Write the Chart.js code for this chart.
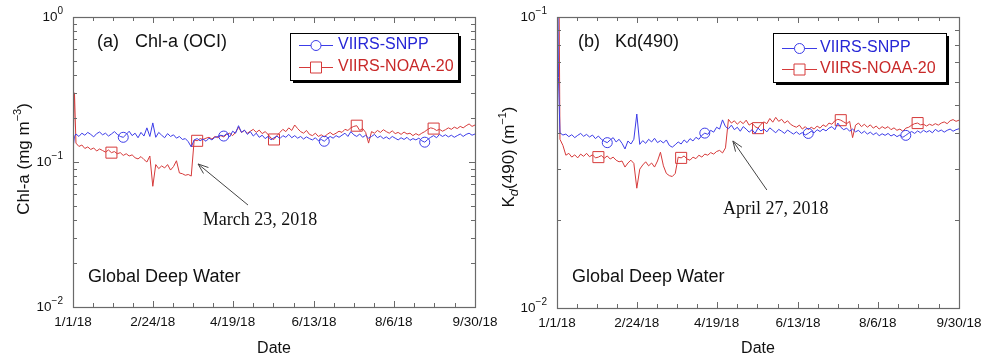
<!DOCTYPE html>
<html>
<head>
<meta charset="utf-8">
<script src="https://cdn.jsdelivr.net/npm/chart.js@4.4.1/dist/chart.umd.min.js"></script>
<style>
    html, body { margin: 0; padding: 0; background: #fff; }
    #wrap { position: relative; width: 985px; height: 358px; overflow: hidden; }
    canvas { position: absolute; top: 0; }
    #chlChart { left: 0; }
    #kdChart { left: 493px; }
</style>
</head>
<body>
<div id="wrap">
    <canvas id="chlChart" width="505" height="358"></canvas>
    <canvas id="kdChart" width="492" height="358"></canvas>
</div>
<script>
// ------------------ DONNÉES ------------------
const days = [0,1,2,4,6,8,10,12,14,16,18,20,22,24,26,28,30,32,34,36,38,40,42,44,46,48,50,52,54,56,58,60,
    62,64,66,68,70,72,74,76,78,80,82,84,86,88,90,92,94,96,98,100,102,104,106,108,110,112,114,116,118,120,
    122,124,126,128,130,132,134,136,138,140,142,144,146,148,150,152,154,156,158,160,162,164,166,168,170,
    172,174,176,178,180,182,184,186,188,190,192,194,196,198,200,202,204,206,208,210,212,214,216,218,220,
    222,224,226,228,230,232,234,236,238,240,242,244,246,248,250,252,254,256,258,260,262,264,266,268,270,272];

const dateTickDays = [0, 54, 108, 163, 217, 272];
const dateTickLabels = ['1/1/18', '2/24/18', '4/19/18', '6/13/18', '8/6/18', '9/30/18'];
const seriesNames = ['VIIRS-SNPP', 'VIIRS-NOAA-20'];

// Chl-a (mg m-3)
const chlSnpp = [0.125, 0.150,
    0.156, 0.150, 0.158, 0.153, 0.160,  0.155, 0.149, 0.157, 0.161, 0.154,
    0.158, 0.151, 0.156, 0.162, 0.155,  0.150, 0.148, 0.155, 0.163, 0.152,
    0.158, 0.147, 0.160, 0.151, 0.172,  0.150, 0.186, 0.148, 0.160, 0.153,
    0.147, 0.157, 0.150, 0.154, 0.146,  0.150, 0.143, 0.145, 0.138, 0.127,
    0.142, 0.145, 0.140, 0.144, 0.139,  0.146, 0.142, 0.148, 0.150, 0.153,
    0.151, 0.157, 0.149, 0.163, 0.158,  0.178, 0.160, 0.166, 0.155, 0.162,
    0.151, 0.158, 0.148, 0.153, 0.145,  0.150, 0.142, 0.147, 0.151, 0.145,
    0.152, 0.148, 0.155, 0.147, 0.152,  0.146, 0.150, 0.144, 0.149, 0.145,
    0.142, 0.147, 0.140, 0.143, 0.139,  0.145, 0.150, 0.146, 0.152, 0.148,
    0.153, 0.158, 0.150, 0.162, 0.154,  0.150, 0.156, 0.148, 0.153, 0.146,
    0.150, 0.155, 0.147, 0.151, 0.145,  0.149, 0.144, 0.150, 0.146, 0.142,
    0.147, 0.143, 0.148, 0.141, 0.145,  0.142, 0.146, 0.140, 0.137, 0.143,
    0.148, 0.152, 0.147, 0.155, 0.150,  0.154, 0.149, 0.153, 0.148, 0.152,
    0.156, 0.150, 0.155, 0.158, 0.153,  0.156];
const chlNoaa20 = [0.125, 0.300,
    0.135, 0.128, 0.131, 0.124, 0.127,  0.122, 0.125, 0.119, 0.123, 0.120,
    0.117, 0.121, 0.116, 0.118, 0.114,  0.116, 0.111, 0.114, 0.110, 0.112,
    0.107, 0.105, 0.109, 0.104, 0.100,  0.110, 0.068, 0.096, 0.090, 0.094,
    0.091, 0.096, 0.088, 0.093, 0.102,  0.084, 0.083, 0.081, 0.082, 0.080,
    0.142, 0.140, 0.145, 0.143, 0.146,  0.148, 0.144, 0.150, 0.147, 0.152,
    0.149, 0.155, 0.158, 0.152, 0.160,  0.174, 0.160, 0.165, 0.158, 0.163,
    0.168, 0.160, 0.166, 0.157, 0.162,  0.155, 0.146, 0.143, 0.152, 0.160,
    0.168, 0.162, 0.172, 0.165, 0.180,  0.170, 0.162, 0.158, 0.165, 0.155,
    0.152, 0.158, 0.150, 0.154, 0.149,  0.155, 0.160, 0.154, 0.158, 0.163,
    0.160, 0.168, 0.165, 0.172, 0.176,  0.178, 0.165, 0.170, 0.160, 0.135,
    0.162, 0.158, 0.165, 0.160, 0.167,  0.162, 0.158, 0.164, 0.157, 0.160,
    0.155, 0.161, 0.156, 0.158, 0.152,  0.157, 0.153, 0.158, 0.162, 0.168,
    0.172, 0.170, 0.165, 0.168, 0.163,  0.167, 0.172, 0.168, 0.174, 0.170,
    0.176, 0.172, 0.178, 0.183, 0.176,  0.180];

// Kd(490) (m-1)
const kdSnpp = [0.300, 0.062,
    0.0400, 0.0393, 0.0396, 0.0388, 0.0394,  0.0385, 0.0392, 0.0398, 0.0389, 0.0395,
    0.0387, 0.0393, 0.0382, 0.0390, 0.0380,  0.0374, 0.0370, 0.0378, 0.0385, 0.0372,
    0.0380, 0.0368, 0.0352, 0.0375, 0.0366,  0.0380, 0.0464, 0.0365, 0.0376, 0.0368,
    0.0380, 0.0372, 0.0383, 0.0370, 0.0376,  0.0369, 0.0378, 0.0362, 0.0357, 0.0364,
    0.0372, 0.0366, 0.0378, 0.0370, 0.0382,  0.0375, 0.0386, 0.0380, 0.0392, 0.0399,
    0.0395, 0.0408, 0.0402, 0.0418, 0.0412,  0.0443, 0.0420, 0.0413, 0.0425, 0.0410,
    0.0418, 0.0405, 0.0420, 0.0412, 0.0402,  0.0410, 0.0398, 0.0415, 0.0406, 0.0412,
    0.0403, 0.0416, 0.0408, 0.0400, 0.0411,  0.0405, 0.0398, 0.0409, 0.0402, 0.0396,
    0.0403, 0.0395, 0.0401, 0.0393, 0.0398,  0.0405, 0.0400, 0.0410, 0.0404, 0.0412,
    0.0406, 0.0415, 0.0420, 0.0410, 0.0432,  0.0418, 0.0410, 0.0415, 0.0405, 0.0412,
    0.0403, 0.0408, 0.0398, 0.0405, 0.0396,  0.0402, 0.0394, 0.0400, 0.0391, 0.0397,
    0.0392, 0.0398, 0.0390, 0.0395, 0.0388,  0.0393, 0.0386, 0.0392, 0.0399, 0.0404,
    0.0398, 0.0406, 0.0400, 0.0408, 0.0402,  0.0407, 0.0400, 0.0411, 0.0404, 0.0409,
    0.0402, 0.0408, 0.0412, 0.0405, 0.0410,  0.0413];
const kdNoaa20 = [0.250, 0.250,
    0.0380, 0.0362, 0.0335, 0.0340, 0.0330,  0.0336, 0.0328, 0.0338, 0.0332, 0.0340,
    0.0331, 0.0336, 0.0328, 0.0330, 0.0334,  0.0327, 0.0333, 0.0325, 0.0330, 0.0322,
    0.0318, 0.0320, 0.0305, 0.0315, 0.0322,  0.0314, 0.0258, 0.0300, 0.0310, 0.0318,
    0.0308, 0.0315, 0.0305, 0.0320, 0.0343,  0.0308, 0.0290, 0.0285, 0.0283, 0.0290,
    0.0330, 0.0328, 0.0333, 0.0325, 0.0322,  0.0330, 0.0326, 0.0335, 0.0330, 0.0338,
    0.0335, 0.0342, 0.0338, 0.0345, 0.0348,  0.0341, 0.0355, 0.0445, 0.0432, 0.0440,
    0.0428, 0.0438, 0.0430, 0.0442, 0.0425,  0.0432, 0.0420, 0.0415, 0.0428, 0.0436,
    0.0430, 0.0448, 0.0435, 0.0452, 0.0438,  0.0445, 0.0432, 0.0440, 0.0428, 0.0422,
    0.0418, 0.0425, 0.0412, 0.0420, 0.0410,  0.0418, 0.0412, 0.0422, 0.0415, 0.0426,
    0.0420, 0.0432, 0.0428, 0.0440, 0.0445,  0.0442, 0.0436, 0.0430, 0.0438, 0.0385,
    0.0425, 0.0432, 0.0420, 0.0428, 0.0418,  0.0426, 0.0415, 0.0422, 0.0412, 0.0420,
    0.0414, 0.0420, 0.0410, 0.0416, 0.0408,  0.0412, 0.0405, 0.0415, 0.0418, 0.0425,
    0.0430, 0.0432, 0.0426, 0.0428, 0.0422,  0.0428, 0.0424, 0.0430, 0.0425, 0.0432,
    0.0436, 0.0430, 0.0440, 0.0444, 0.0438,  0.0442];

// Jours où un symbole est posé sur la courbe
const chlSnppMarkers = [34, 102, 170, 238];
const chlNoaa20Markers = [26, 84, 136, 192, 244];
const kdSnppMarkers = [34, 100, 170, 236];
const kdNoaa20Markers = [28, 84, 136, 192, 244];

// ------------------ STYLES ------------------
const BLUE = '#3c3ce8';
const RED = '#d63a3a';
const BLUE_TXT = '#2626d6';
const RED_TXT = '#c82828';
const INK = '#111';
const FRAME = '#6a6a6a';
const SANS = "'Liberation Sans', Arial, Helvetica, sans-serif";
const SERIF = "'Liberation Serif', 'Times New Roman', serif";

function fontOf(pc) {
    return `${pc.italic ? 'italic ' : ''}${pc.size}px ${pc.family || SANS}`;
}

// Texte composé (exposants / indices), éventuellement tourné
function drawRich(ctx, pieces, cx, cy, angle) {
    ctx.save();
    ctx.translate(cx, cy);
    ctx.rotate(angle);
    let total = 0;
    pieces.forEach(pc => {
        ctx.font = fontOf(pc);
        pc.w = ctx.measureText(pc.t).width;
        total += pc.w;
    });
    let xx = -total / 2;
    ctx.textAlign = 'left';
    ctx.textBaseline = 'middle';
    ctx.fillStyle = INK;
    pieces.forEach(pc => {
        ctx.font = fontOf(pc);
        ctx.fillText(pc.t, xx, pc.dy || 0);
        xx += pc.w;
    });
    ctx.restore();
}

function decorPlugin(p) {
    return {
        id: 'decor',
        afterDraw(chart) {
            const { ctx, chartArea: a } = chart;
            const x = chart.scales.x;
            const y = chart.scales.y;
            ctx.save();

            // Cadre
            ctx.strokeStyle = FRAME;
            ctx.lineWidth = 1.2;
            ctx.strokeRect(Math.round(a.left) + 0.5, Math.round(a.top) + 0.5,
                Math.round(a.right - a.left), Math.round(a.bottom - a.top));

            // Graduations internes X (haut et bas)
            ctx.lineWidth = 1;
            ctx.beginPath();
            for (let i = 0; i < dateTickDays.length; i++) {
                const next = dateTickDays[i + 1];
                for (let k = 0; k < 4; k++) {
                    if (next === undefined && k > 0) break;
                    const d = dateTickDays[i] + (next === undefined ? 0 : k * (next - dateTickDays[i]) / 4);
                    const px = Math.round(x.getPixelForValue(d)) + 0.5;
                    const len = k === 0 ? 6 : 4;
                    ctx.moveTo(px, a.bottom); ctx.lineTo(px, a.bottom - len);
                    ctx.moveTo(px, a.top); ctx.lineTo(px, a.top + len);
                }
            }
            // Graduations internes Y (gauche et droite)
            const e0 = Math.round(Math.log10(p.yMin));
            const e1 = Math.round(Math.log10(p.yMax));
            for (let e = e0; e <= e1; e++) {
                for (let m = 1; m <= 9; m++) {
                    if (e === e1 && m > 1) break;
                    const py = Math.round(y.getPixelForValue(m * Math.pow(10, e))) + 0.5;
                    const len = m === 1 ? 6 : 4;
                    ctx.moveTo(a.left, py); ctx.lineTo(a.left + len, py);
                    ctx.moveTo(a.right, py); ctx.lineTo(a.right - len, py);
                }
            }
            ctx.stroke();

            // Étiquettes Y : 10^n
            ctx.fillStyle = INK;
            ctx.textAlign = 'left';
            ctx.textBaseline = 'middle';
            for (let e = e0; e <= e1; e++) {
                const py = y.getPixelForValue(Math.pow(10, e));
                const sup = String(e).replace('-', '\u2212');
                ctx.font = `10px ${SANS}`;
                const supW = ctx.measureText(sup).width;
                ctx.font = `13.5px ${SANS}`;
                const baseW = ctx.measureText('10').width;
                const xr = a.left - 10;
                ctx.fillText('10', xr - supW - baseW, py);
                ctx.font = `10px ${SANS}`;
                ctx.fillText(sup, xr - supW, py - 6);
            }

            // Titre de l'axe Y
            drawRich(ctx, p.yTitle.pieces, p.yTitle.x, p.yTitle.y, -Math.PI / 2);

            // Titre du panneau et région
            ctx.fillStyle = INK;
            ctx.font = `18px ${SANS}`;
            ctx.fillText(p.tag.label, p.tag.x, p.tag.y);
            ctx.fillText(p.tag.name, p.tag.nameX, p.tag.y);
            ctx.fillText('Global Deep Water', p.region.x, p.region.y);

            // Légende avec ombre
            const L = p.legend;
            ctx.fillStyle = '#000';
            ctx.fillRect(L.x + 3, L.y + 3, L.w, L.h);
            ctx.fillStyle = '#fff';
            ctx.fillRect(L.x, L.y, L.w, L.h);
            ctx.strokeStyle = '#000';
            ctx.lineWidth = 1;
            ctx.strokeRect(L.x + 0.5, L.y + 0.5, L.w, L.h);
            const rows = [
                { color: BLUE, txt: BLUE_TXT, style: 'circle' },
                { color: RED, txt: RED_TXT, style: 'rect' }
            ];
            rows.forEach((r, i) => {
                const ry = L.rows[i] + 0.5;
                const mx = (L.lineX[0] + L.lineX[1]) / 2;
                ctx.strokeStyle = r.color;
                ctx.beginPath();
                ctx.moveTo(L.lineX[0], ry); ctx.lineTo(L.lineX[1], ry);
                ctx.stroke();
                ctx.fillStyle = '#fff';
                ctx.beginPath();
                if (r.style === 'circle') {
                    ctx.arc(mx, ry, 5, 0, Math.PI * 2);
                } else {
                    ctx.rect(mx - 5.5, ry - 5.5, 11, 11);
                }
                ctx.fill();
                ctx.stroke();
                ctx.fillStyle = r.txt;
                ctx.font = `16px ${SANS}`;
                ctx.fillText(seriesNames[i], L.textX, L.rows[i]);
            });

            // Annotation et flèche
            const n = p.note;
            const tx = x.getPixelForValue(n.tail[0]), ty = y.getPixelForValue(n.tail[1]);
            const hx = x.getPixelForValue(n.tip[0]), hy = y.getPixelForValue(n.tip[1]);
            ctx.strokeStyle = '#444';
            ctx.lineWidth = 1;
            ctx.beginPath();
            ctx.moveTo(tx, ty); ctx.lineTo(hx, hy);
            const ang = Math.atan2(hy - ty, hx - tx);
            [-1, 1].forEach(s => {
                ctx.moveTo(hx, hy);
                ctx.lineTo(hx - 11 * Math.cos(ang + s * 0.36), hy - 11 * Math.sin(ang + s * 0.36));
            });
            ctx.stroke();
            ctx.fillStyle = INK;
            ctx.font = `18px ${SERIF}`;
            ctx.textAlign = 'center';
            ctx.fillText(n.text, x.getPixelForValue(n.at[0]), y.getPixelForValue(n.at[1]));

            ctx.restore();
        }
    };
}

function makeDataset(label, values, markerDays, color, style, radius) {
    return {
        label: label,
        data: values,
        borderColor: color,
        borderWidth: 1,
        tension: 0,
        pointStyle: style,
        pointRadius: c => markerDays.includes(days[c.dataIndex]) ? radius : 0,
        pointHoverRadius: 0,
        pointBorderColor: color,
        pointBackgroundColor: 'rgba(0,0,0,0)',
        pointBorderWidth: 1
    };
}

function makeChart(canvasId, p) {
    return new Chart(document.getElementById(canvasId), {
        type: 'line',
        data: {
            labels: days,
            datasets: [
                makeDataset(seriesNames[0], p.snpp, p.snppMarkers, BLUE, 'circle', 5),
                makeDataset(seriesNames[1], p.noaa, p.noaaMarkers, RED, 'rect', 7.8)
            ]
        },
        options: {
            responsive: false,
            animation: false,
            events: [],
            layout: { padding: p.padding },
            plugins: {
                legend: { display: false },
                tooltip: { enabled: false }
            },
            scales: {
                x: {
                    type: 'linear',
                    min: 0,
                    max: 272,
                    grid: { display: false, drawTicks: false },
                    border: { display: false },
                    afterBuildTicks: s => { s.ticks = dateTickDays.map(v => ({ value: v })); },
                    afterFit: s => { s.height = p.xAxisHeight; s.paddingLeft = 0; s.paddingRight = 0; },
                    ticks: {
                        autoSkip: false,
                        maxRotation: 0,
                        padding: 7,
                        color: INK,
                        font: { family: SANS, size: 13.5 },
                        callback: (v, i) => dateTickLabels[i]
                    },
                    title: {
                        display: true,
                        text: 'Date',
                        color: INK,
                        padding: 0,
                        font: { family: SANS, size: 16 }
                    }
                },
                y: {
                    type: 'logarithmic',
                    min: p.yMin,
                    max: p.yMax,
                    display: false
                }
            }
        },
        plugins: [decorPlugin(p)]
    });
}

// ------------------ PANNEAUX ------------------
makeChart('chlChart', {
    snpp: chlSnpp, noaa: chlNoaa20,
    snppMarkers: chlSnppMarkers, noaaMarkers: chlNoaa20Markers,
    yMin: 0.01, yMax: 1,
    padding: { left: 73, right: 30, top: 17, bottom: 0 },
    xAxisHeight: 51,
    yTitle: { x: 24, y: 159, pieces: [
        { t: 'Chl-a (mg m', size: 17 },
        { t: '\u22123', size: 11, dy: -6 },
        { t: ')', size: 17 }
    ] },
    tag: { label: '(a)', x: 97, nameX: 135, y: 42, name: 'Chl-a (OCI)' },
    region: { x: 88, y: 277 },
    legend: { x: 290, y: 33, w: 168, h: 47, lineX: [299, 333], textX: 338, rows: [45, 67] },
    note: { text: 'March 23, 2018', at: [126.5, 0.0398], tail: [118.4, 0.0505], tip: [84.6, 0.0969] }
});

makeChart('kdChart', {
    snpp: kdSnpp, noaa: kdNoaa20,
    snppMarkers: kdSnppMarkers, noaaMarkers: kdNoaa20Markers,
    yMin: 0.01, yMax: 0.1,
    padding: { left: 64, right: 26, top: 17, bottom: 0 },
    xAxisHeight: 50,
    yTitle: { x: 16, y: 157, pieces: [
        { t: 'K', size: 17 },
        { t: 'd', size: 13, dy: 5, italic: true },
        { t: '(490) (m', size: 17 },
        { t: '\u22121', size: 11, dy: -6 },
        { t: ')', size: 17 }
    ] },
    tag: { label: '(b)', x: 85, nameX: 122, y: 42, name: 'Kd(490)' },
    region: { x: 79, y: 277 },
    legend: { x: 280, y: 33, w: 173, h: 49, lineX: [289, 324], textX: 327, rows: [48, 69] },
    note: { text: 'April 27, 2018', at: [148, 0.0219], tail: [142, 0.02544], tip: [119, 0.0375] }
});
</script>
</body>
</html>
